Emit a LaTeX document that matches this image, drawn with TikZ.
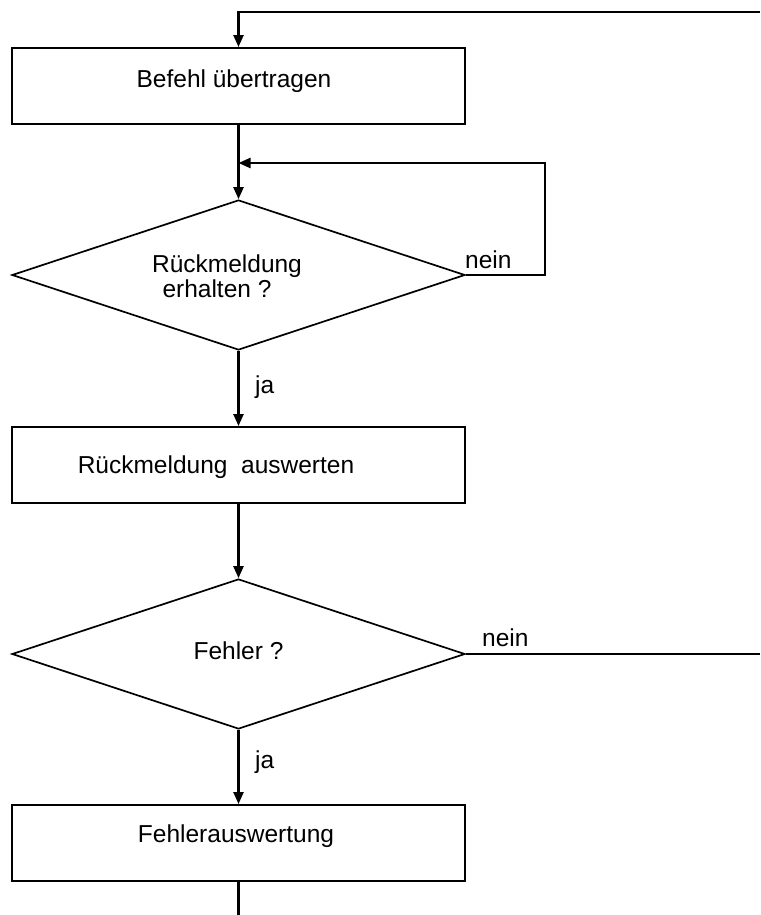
\documentclass[tikz,border=0pt]{standalone}
\usepackage{fontspec}
\setmainfont{Liberation Sans}
\usetikzlibrary{shapes.geometric,arrows.meta}
\begin{document}
\begin{tikzpicture}[x=1pt,y=-1pt,
  box/.style={draw,line width=1.9pt,minimum width=453pt,minimum height=76pt,inner sep=0pt},
  dia/.style={draw,line width=1.7pt,diamond,aspect=3.02,minimum width=453pt,minimum height=150pt,inner sep=0pt},
  lbl/.style={font=\fontsize{24.5}{26}\selectfont,inner sep=0pt,anchor=base},
  tag/.style={lbl,anchor=base west},
  conn/.style={line width=2.3pt},
  arr/.style={conn,-{Triangle[length=12pt,width=10pt]}}]
\useasboundingbox (0,0) rectangle (760,915);
\node[box] (b1) at (238.5,86) {};
\node[lbl] (t1) at (234,88) {Befehl übertragen};
\node[dia] (d1) at (238.5,275) {};
\node[lbl] (t2a) at (227,272) {Rückmeldung};
\node[lbl] (t2b) at (217,297) {erhalten ?};
\node[box] (b2) at (238.5,465) {};
\node[lbl] (t3) at (216,473) {Rückmeldung\ \ auswerten};
\node[dia] (d2) at (238.5,654) {};
\node[lbl] (t4) at (238.5,659) {Fehler ?};
\node[box] (b3) at (238.5,843) {};
\node[lbl] (t5) at (236,842) {Fehlerauswertung};
\coordinate (tr) at (760,12);
\coordinate (m1) at (238.5,163);
\coordinate (r2) at (760,654);
\coordinate (bt) at (238.5,915);
\draw[arr] (tr) -| (b1.north);
\draw[arr] (b1.south) -- (d1.north);
\draw[arr] (d1.east) -- ++(79,0) |- (m1);
\draw[arr] (d1.south) -- (b2.north);
\draw[arr] (b2.south) -- (d2.north);
\draw[conn] (d2.east) -- (r2);
\draw[arr] (d2.south) -- (b3.north);
\draw[conn] (b3.south) -- (bt);
\node[tag] (ja1) at (255,393) {ja};
\node[tag] (ja2) at (255,768) {ja};
\node[tag] (n1) at (465,268) {nein};
\node[tag] (n2) at (482,646) {nein};
\end{tikzpicture}
\end{document}
